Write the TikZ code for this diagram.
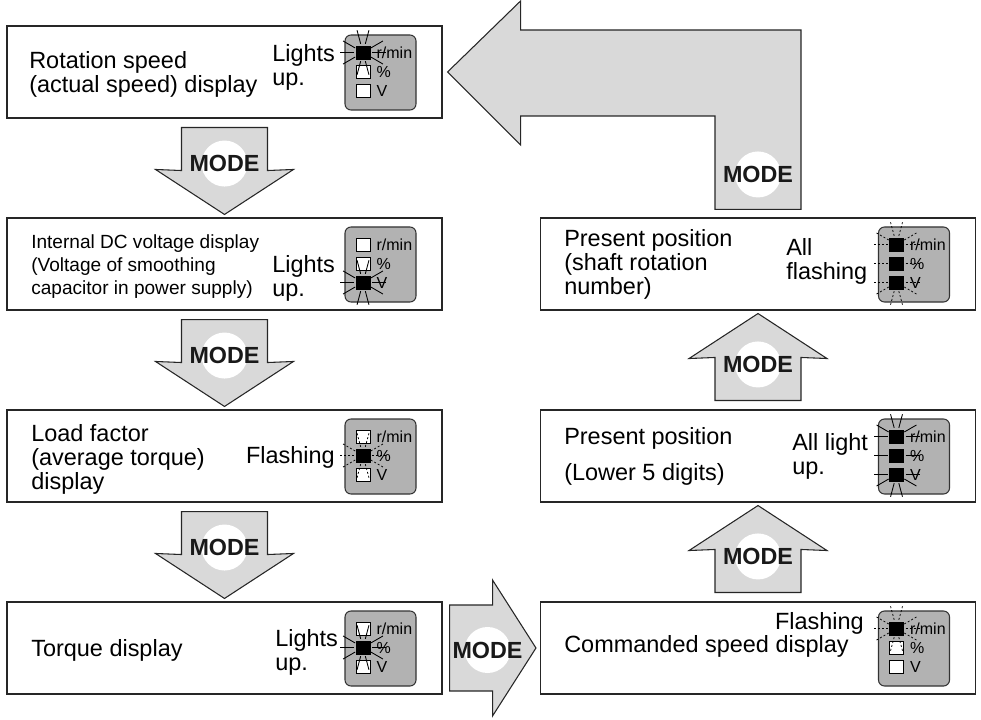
\documentclass[tikz,border=0pt]{standalone}
\usepackage{fontspec}
\setmainfont{Liberation Sans}
\usetikzlibrary{calc}

\tikzset{
  dispbox/.style={draw=black!85, line width=0.8pt, minimum width=326.25pt, minimum height=69pt, inner sep=0pt},
  panel/.style={draw=black!80, fill=black!30, rounded corners=4.5pt, line width=0.8pt, minimum width=53.25pt, minimum height=56.25pt, inner sep=0pt},
  led/.style={draw=black, line width=0.5pt, minimum width=10.5pt, minimum height=9.75pt, inner sep=0pt},
  ledlbl/.style={font=\fontsize{12}{12}\selectfont, inner sep=0pt, anchor=west},
  maintxt/.style={font=\fontsize{17.6}{18}\selectfont, align=left, inner sep=0pt, anchor=west},
  smalltxt/.style={font=\fontsize{14.3}{17.25}\selectfont, align=left, inner sep=0pt, anchor=west},
  modearrow/.style={draw=black!85, fill=black!15, line width=0.8pt, line join=miter},
  modedisk/.style={circle, fill=white, minimum size=34.5pt, inner sep=0pt},
  modetxt/.style={font=\fontsize{17.5}{18}\selectfont\bfseries, text=black!90, inner sep=0pt},
  lit/.style={line width=0.65pt},
  flash/.style={line width=0.55pt, dash pattern=on 1.5pt off 1.5pt}
}

% three lamps with their labels inside a panel
\newcommand{\ledpanel}[4]{%
  \node[led, fill=#2] (#1r) at ([shift={(-17.5,-20)}]#1.center) {};
  \node[led, fill=#3] (#1p) at ([shift={(-17.5,-1)}]#1.center) {};
  \node[led, fill=#4] (#1v) at ([shift={(-17.5,18)}]#1.center) {};
  \node[ledlbl] at ([xshift=4.5pt]#1r.east) {r/min};
  \node[ledlbl] at ([xshift=4.5pt]#1p.east) {\%};
  \node[ledlbl] at ([xshift=4.5pt]#1v.east) {V};}
% short rays round a lamp
\newcommand{\rays}[3]{%
  \foreach \a in {#3} \draw[#2] (#1.center) ++(\a:6.75pt) -- ++(\a:10.5pt);}
\newcommand{\modelabel}[1]{%
  \node[modedisk] at (#1) {};
  \node[modetxt] at (#1) {MODE};}
% block arrow downwards between two boxes
\newcommand{\modedown}[2]{%
  \draw[modearrow] ([shift={(-43,9)}]#1.south) -- ([shift={(-43,52)}]#1.south)
    -- ([shift={(-69,-48)}]#2.north) -- ([shift={(0,-3)}]#2.north)
    -- ([shift={(69,-48)}]#2.north) -- ([shift={(43,52)}]#1.south)
    -- ([shift={(43,9)}]#1.south) -- cycle;
  \modelabel{[shift={(0,45)}]#1.south}}
% block arrow upwards between two boxes
\newcommand{\modeup}[2]{%
  \draw[modearrow] ([shift={(-43,-9)}]#1.north) -- ([shift={(-43,-52)}]#1.north)
    -- ([shift={(-69,48)}]#2.south) -- ([shift={(0,3)}]#2.south)
    -- ([shift={(69,48)}]#2.south) -- ([shift={(43,-52)}]#1.north)
    -- ([shift={(43,-9)}]#1.north) -- cycle;
  \modelabel{[shift={(0,-45)}]#1.north}}

\begin{document}
\begin{tikzpicture}[x=0.75pt, y=-0.75pt]
  \useasboundingbox (0,0) rectangle (981,720);

  % display boxes
  \node[dispbox] (b1) at (224.5,72) {};
  \node[dispbox] (b2) at (224.5,264) {};
  \node[dispbox] (b3) at (224.5,456) {};
  \node[dispbox] (b4) at (224.5,648) {};
  \node[dispbox] (r1) at (758,264) {};
  \node[dispbox] (r2) at (758,456) {};
  \node[dispbox] (r3) at (758,648) {};

  % lamp panels
  \foreach \b/\p in {b1/p1, b2/p2, b3/p3, b4/p4, r1/q1, r2/q2, r3/q3}
    \node[panel] (\p) at ([shift={(156,0.5)}]\b.center) {};
  \ledpanel{p1}{black}{white}{white}
  \ledpanel{p2}{white}{white}{black}
  \ledpanel{p3}{white}{black}{white}
  \ledpanel{p4}{white}{black}{white}
  \ledpanel{q1}{black}{black}{black}
  \ledpanel{q2}{black}{black}{black}
  \ledpanel{q3}{black}{white}{white}

  % rays: solid = lights up, dashed = flashing
  \rays{p1r}{lit}{0,30,75,105,150,180,210,255,285,330}
  \rays{p2v}{lit}{0,30,75,105,150,180,210,255,285,330}
  \rays{p3p}{flash}{0,30,75,105,150,180,210,255,285,330}
  \rays{p4p}{lit}{0,30,75,105,150,180,210,255,285,330}
  \rays{q1r}{flash}{0,30,75,105,150,180}
  \rays{q1p}{flash}{0,180}
  \rays{q1v}{flash}{0,180,210,255,285,330}
  \rays{q2r}{lit}{0,30,75,105,150,180}
  \rays{q2p}{lit}{0,180}
  \rays{q2v}{lit}{0,180,210,255,285,330}
  \rays{q3r}{flash}{0,30,75,105,150,180,210,255,285,330}

  % texts
  \node[maintxt] (t1) at (29,74) {Rotation speed\\(actual speed) display};
  \node[maintxt] (n1) at (272,67) {Lights\\up.};
  \node[smalltxt] (t2) at (31,267) {Internal DC voltage display\\(Voltage of smoothing\\capacitor in power supply)};
  \node[maintxt] (n2) at (272,278) {Lights\\up.};
  \node[maintxt] (t3) at (31,459) {Load factor\\(average torque)\\display};
  \node[maintxt, anchor=east] (n3) at (335,457) {Flashing};
  \node[maintxt] (t4) at (31,650) {Torque display};
  \node[maintxt] (n4) at (275,652) {Lights\\up.};
  \node[maintxt] (u1) at (564,264) {Present position\\(shaft rotation\\number)};
  \node[maintxt] (m1) at (786,261) {All\\flashing};
  \node[maintxt] (u2) at (564,456) {Present position\\[9pt](Lower 5 digits)};
  \node[maintxt] (m2) at (792,456) {All light\\up.};
  \node[maintxt] (u3) at (564,646) {Commanded speed display};
  \node[maintxt, anchor=east] (m3) at (864,623) {Flashing};

  % MODE arrows
  \modedown{b1}{b2}
  \modedown{b2}{b3}
  \modedown{b3}{b4}
  \draw[modearrow] ([shift={(7,-43)}]b4.east) -- ([shift={(50,-43)}]b4.east)
    -- ([shift={(50,-68)}]b4.east) -- ([shift={(-4,0)}]r3.west)
    -- ([shift={(50,68)}]b4.east) -- ([shift={(50,43)}]b4.east)
    -- ([shift={(7,43)}]b4.east) -- cycle;
  \modelabel{[shift={(45,2)}]b4.east}
  \modeup{r3}{r2}
  \modeup{r2}{r1}
  \draw[modearrow] ([shift={(-43,-8)}]r1.north) -- ($(r1.north |- b1.east)+(-43,44)$)
    -- ($(b1.east)+(78,44)$) -- ($(b1.east)+(78,73)$) -- ([shift={(5,0)}]b1.east)
    -- ($(b1.east)+(78,-71)$) -- ($(b1.east)+(78,-42)$)
    -- ($(r1.north |- b1.east)+(43,-42)$) -- ([shift={(43,-8)}]r1.north) -- cycle;
  \modelabel{[shift={(0,-43)}]r1.north}
\end{tikzpicture}
\end{document}
